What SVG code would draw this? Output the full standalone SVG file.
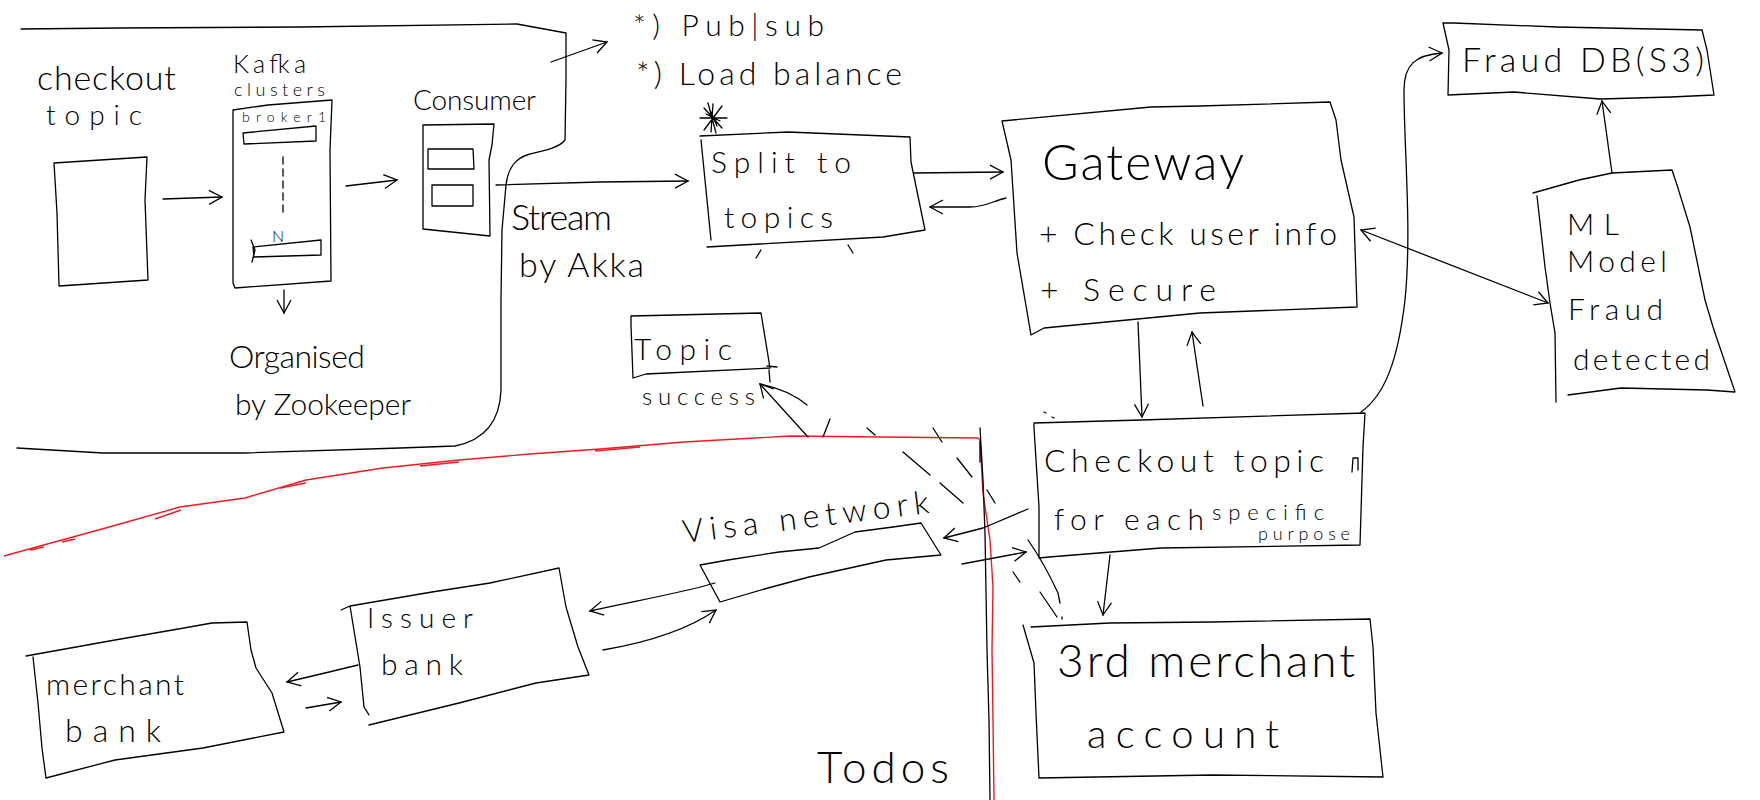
<svg xmlns="http://www.w3.org/2000/svg" width="1760" height="800" viewBox="0 0 1760 800">
<style>
.s{fill:none;stroke:#000;stroke-width:1.3;stroke-linejoin:round;stroke-linecap:round}
.r{fill:none;stroke:#ed1c24;stroke-width:1.4;stroke-linejoin:round}
.t{font-family:"Lato","Liberation Sans",sans-serif;font-weight:300;fill:#000}
.a{marker-end:url(#ah)}
</style>
<defs>
<marker id="ah" markerUnits="userSpaceOnUse" markerWidth="18" markerHeight="18" refX="15" refY="8" orient="auto-start-reverse">
<path d="M2,1 L15,8 L2,15" fill="none" stroke="#000" stroke-width="1.3"/>
</marker>
</defs>
<rect width="1760" height="800" fill="#fff"/>

<g id="container">
<path class="s" d="M21,29 L120,28 L300,27 L517,24 L566,33 L566,80 L565,140 C560,147 547,150 530,154 C515,158 508,168 506,185 L502,230 L501,300 L501,390 C500,420 485,440 455,446 L400,448 L245,453 L103,453 L17,448"/>
</g>

<g id="checkout-topic">
<text class="t" x="37" y="90" font-size="34" textLength="139" lengthAdjust="spacing">checkout</text>
<text class="t" x="46" y="125" font-size="28" textLength="96" lengthAdjust="spacing">topic</text>
<path class="s" d="M54,163 L147,157 L145,200 L148,280 L59,286 L57,213 Z"/>
</g>

<g id="kafka">
<text class="t" x="233" y="73" font-size="25" textLength="73" lengthAdjust="spacing">Kafka</text>
<text class="t" x="234" y="96" font-size="18" textLength="91" lengthAdjust="spacing">clusters</text>
<path class="s" d="M233,110 L268,105 L332,100 L330,150 L331,281 L235,288 L233,283 Z"/>
<text class="t" x="242" y="122" font-size="14" textLength="84" lengthAdjust="spacing">broker1</text>
<path class="s" d="M243,133 L316,126 L316,141 L244,144 Z"/>
<path class="s" d="M283,157 L283,215" stroke-dasharray="7 5"/>
<text class="t" x="272" y="242" font-size="16">N</text>
<path class="s" d="M253,247 L321,240 L321,255 L254,257 Z M251,240 L255,250 L252,262"/>
</g>

<g id="zookeeper">
<text class="t" x="229" y="368" font-size="32" textLength="136" lengthAdjust="spacing">Organised</text>
<text class="t" x="235" y="415" font-size="30" textLength="176" lengthAdjust="spacing">by Zookeeper</text>
</g>

<g id="consumer">
<text class="t" x="413" y="110" font-size="28" textLength="123" lengthAdjust="spacing">Consumer</text>
<path class="s" d="M423,125 L494,124 L492,145 L489,160 L490,236 L423,229 Z"/>
<path class="s" d="M428,149 L473,149 L474,169 L428,169 Z M432,185 L473,185 L473,206 L432,206 Z"/>
</g>

<g id="stream-label">
<text class="t" x="511" y="230" font-size="36" textLength="101" lengthAdjust="spacing">Stream</text>
<text class="t" x="519" y="277" font-size="34" textLength="125" lengthAdjust="spacing">by Akka</text>
</g>

<g id="notes">
<text class="t" x="633" y="36" font-size="30" textLength="191" lengthAdjust="spacing">*) Pub|sub</text>
<text class="t" x="636" y="85" font-size="32" textLength="266" lengthAdjust="spacing">*) Load balance</text>
<path class="s" stroke-width="2" d="M700,118 L727,118 M713,104 L711,132 M704,108 L722,128 M722,106 L704,130 M708,103 L716,133 M710,110 L717,126 M706,114 L720,121"/>
</g>

<g id="split">
<path class="s" d="M700,136 L788,132 L910,137 L911,162 L925,230 L883,237 L707,247 M701,140 L711,240"/>
<text class="t" x="711" y="173" font-size="30" textLength="140" lengthAdjust="spacing">Split to</text>
<text class="t" x="724" y="228" font-size="30" textLength="109" lengthAdjust="spacing">topics</text>
<path class="s" d="M761,250 L756,258 M848,245 L853,253"/>
</g>

<g id="gateway">
<path class="s" d="M1002,121 L1151,107 L1200,106 L1330,102 L1336,120 L1341,160 L1354,217 L1357,307 L1200,313 L1044,328 L1031,335 L1017,253 L1011,160 Z"/>
<text class="t" x="1042" y="180" font-size="50" textLength="202" lengthAdjust="spacing">Gateway</text>
<text class="t" x="1039" y="245" font-size="32" textLength="298" lengthAdjust="spacing">+ Check user info</text>
<text class="t" x="1040" y="301" font-size="32" textLength="176" lengthAdjust="spacing">+ Secure</text>
</g>

<g id="fraud-db">
<path class="s" d="M1443,23 L1454,23 L1557,27 L1702,30 L1707,50 L1714,95 L1671,97 L1600,99 L1514,92 L1448,95 L1449,50 Z"/>
<text class="t" x="1462" y="72" font-size="34" textLength="242" lengthAdjust="spacing">Fraud DB(S3)</text>
</g>

<g id="ml-model">
<path class="s" d="M1533,193 L1579,180 L1612,173 L1672,170 L1677,185 L1690,227 L1705,300 L1713,327 L1735,392 L1707,390 L1621,388 L1568,395 M1537,196 L1545,267 L1550,303 L1555,333 L1556,402"/>
<text class="t" x="1567" y="235" font-size="30" textLength="52" lengthAdjust="spacing">ML</text>
<text class="t" x="1567" y="272" font-size="30" textLength="100" lengthAdjust="spacing">Model</text>
<text class="t" x="1568" y="320" font-size="30" textLength="95" lengthAdjust="spacing">Fraud</text>
<text class="t" x="1573" y="370" font-size="30" textLength="137" lengthAdjust="spacing">detected</text>
</g>

<g id="topic-success">
<path class="s" d="M631,316 L761,313 L770,368 L646,374 L633,378 L631,325 Z M767,366 L777,367 M769,370 L770,382"/>
<text class="t" x="634" y="360" font-size="30" textLength="98" lengthAdjust="spacing">Topic</text>
<text class="t" x="642" y="405" font-size="24" textLength="113" lengthAdjust="spacing">success</text>
</g>

<g id="checkout-topic-purpose">
<path class="s" d="M1034,423 L1141,420 L1365,413 L1363,447 L1360,545 L1161,548 L1049,557 L1039,558 L1039,507 L1034,428 Z"/>
<text class="t" x="1044" y="472" font-size="32" textLength="280" lengthAdjust="spacing">Checkout topic</text>
<path class="s" d="M1352,472 L1353,458 L1358,458 L1358,470"/>
<text class="t" x="1054" y="530" font-size="30" textLength="150" lengthAdjust="spacing">for each</text>
<text class="t" x="1212" y="520" font-size="22" textLength="112" lengthAdjust="spacing">specific</text>
<text class="t" x="1258" y="540" font-size="18" textLength="92" lengthAdjust="spacing">purpose</text>
</g>

<g id="third-merchant">
<path class="s" d="M1031,627 L1110,623 L1212,622 L1370,619 L1373,647 L1376,713 L1383,777 L1212,775 L1039,778 L1036,713 L1034,663 L1023,625"/>
<text class="t" x="1057" y="677" font-size="46" textLength="298" lengthAdjust="spacing">3rd merchant</text>
<text class="t" x="1087" y="748" font-size="40" textLength="192" lengthAdjust="spacing">account</text>
</g>

<g id="visa">
<text class="t" x="684" y="543" font-size="32" textLength="248" lengthAdjust="spacing" transform="rotate(-7 684 543)">Visa network</text>
<path class="s" d="M700,565 L728,560 L779,552 L819,548 L855,532 L893,527 L921,523 L941,555 L886,560 L809,577 L768,588 L720,602 Z"/>
</g>

<g id="issuer-bank">
<path class="s" d="M341,610 L350,606 L432,592 L490,583 L559,568 L566,607 L578,647 L589,675 L536,683 L459,703 L369,725 M350,606 L360,667 L364,707 L369,715 L366,710"/>
<text class="t" x="367" y="628" font-size="28" textLength="106" lengthAdjust="spacing">Issuer</text>
<text class="t" x="381" y="675" font-size="30" textLength="82" lengthAdjust="spacing">bank</text>
</g>

<g id="merchant-bank">
<path class="s" d="M26,656 L115,640 L184,628 L212,623 L247,622 L251,650 L256,668 L272,693 L284,732 L203,748 L115,760 L46,778 L42,748 L38,703 L33,657"/>
<text class="t" x="46" y="695" font-size="30" textLength="138" lengthAdjust="spacing">merchant</text>
<text class="t" x="65" y="742" font-size="32" textLength="96" lengthAdjust="spacing">bank</text>
</g>

<g id="todos">
<text class="t" x="817" y="783" font-size="44" textLength="132" lengthAdjust="spacing">Todos</text>
</g>

<g id="boundary">
<path class="r" d="M4,556 L40,546 L73,537 L120,524 L180,507 L245,498 L306,480 L383,468 L459,460 L530,454 L600,449 L684,442 L791,436 L880,437 L978,438 L980,440 L983,493 L990,540 L993,587 L992,650 L993,720 L994,800"/>
<path class="r" stroke-width="1" d="M30,550 L44,547 M62,542 L75,539 M155,519 L181,510 M280,488 L306,483 M420,466 L459,462 M595,451 L640,447"/>
<path class="s" d="M980,428 L983,480 L985,533 L987,650 L989,720 L990,800"/>
<path class="s" stroke-width="3" d="M980,442 L980,462"/>
</g>

<g id="connectors">
<path class="s a" d="M163,199 L222,197"/>
<path class="s a" d="M284,290 L284,313"/>
<path class="s a" d="M346,186 L397,180"/>
<path class="s a" d="M551,62 L607,42"/>
<path class="s a" d="M496,185 L600,182 L688,181"/>
<path class="s a" d="M914,173 L1003,172"/>
<path class="s a" d="M1006,198 C993,201 985,207 970,207 L930,207"/>
<path class="s a" d="M1138,322 L1142,417"/>
<path class="s a" d="M1203,406 L1192,332"/>
<path class="s a" d="M1361,412 C1385,395 1398,360 1405,300 C1412,230 1404,150 1404,90 C1404,65 1415,55 1442,53"/>
<path class="s a" d="M1612,173 L1602,101"/>
<path class="s a" d="M1361,230 L1548,303" marker-start="url(#ah)"/>
<path class="s a" d="M1028,509 L983,528 L944,538"/>
<path class="s a" d="M962,564 L1026,552"/>
<path class="s a" d="M1110,555 L1103,615"/>
<path class="s a" d="M715,583 C685,592 640,600 590,611"/>
<path class="s a" d="M603,650 C650,642 690,628 716,610"/>
<path class="s a" d="M358,665 L325,673 L287,682"/>
<path class="s a" d="M306,708 L341,702"/>
<path class="s a" d="M808,437 L760,384"/>
<path class="s" d="M760,384 C780,388 795,395 807,405"/>
</g>

<g id="marks">
<path class="s" d="M830,419 L823,437 M867,428 L875,435 M933,428 L942,442 M903,452 L930,475 M957,458 L972,477 M940,483 L963,503 M987,490 L995,503 M1028,540 C1042,560 1052,580 1058,593 L1060,603 M1040,592 L1057,617 M1013,572 L1020,582 M1062,617 L1062,619 M1044,412 L1046,413 M1052,417 L1054,418"/>
</g>
</svg>
